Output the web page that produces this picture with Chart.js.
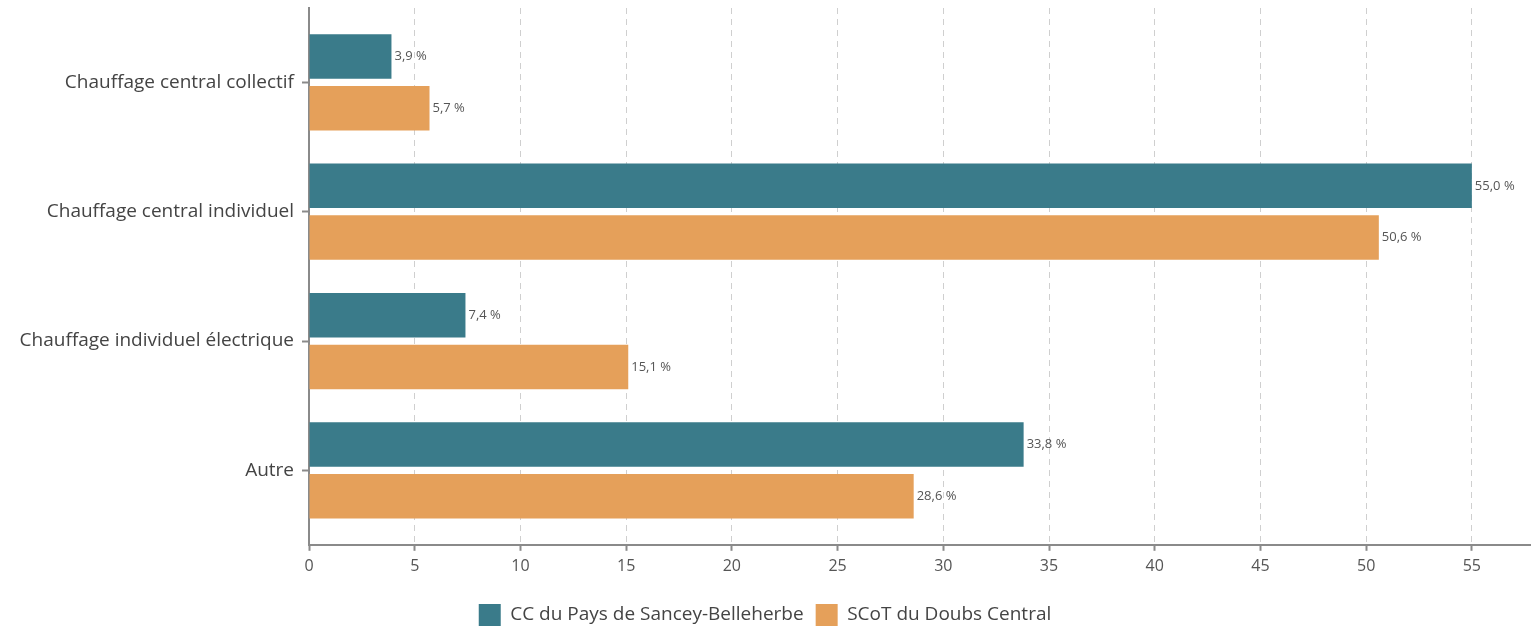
<!DOCTYPE html>
<html>
<head>
<meta charset="utf-8">
<script src="https://cdn.jsdelivr.net/npm/chart.js@4/dist/chart.umd.min.js"></script>
<style>
  html, body { margin: 0; padding: 0; background: #fff; }
  #wrap { width: 1540px; height: 636px; }
</style>
</head>
<body>
<div id="wrap"><canvas id="chauffageChart"></canvas></div>
<script>
// Data
const categories = ['Chauffage central collectif', 'Chauffage central individuel', 'Chauffage individuel électrique', 'Autre'];
const ccSancey = [3.9, 55.0, 7.4, 33.8];
const scotDoubs = [5.7, 50.6, 15.1, 28.6];
const seriesNames = ['CC du Pays de Sancey-Belleherbe', 'SCoT du Doubs Central'];
const xTicks = [0, 5, 10, 15, 20, 25, 30, 35, 40, 45, 50, 55];

const teal = '#3A7B8A';
const orange = '#E5A05A';
const axisGray = '#8a8a8a';

// value labels at the end of each bar, "3,9 %"
const valueLabels = {
    id: 'valueLabels',
    afterDatasetsDraw(chart) {
        const ctx = chart.ctx;
        ctx.save();
        ctx.font = '13px "Open Sans"';
        ctx.fillStyle = '#555';
        ctx.textAlign = 'left';
        ctx.textBaseline = 'middle';
        chart.data.datasets.forEach(function(ds, i) {
            chart.getDatasetMeta(i).data.forEach(function(bar, j) {
                const txt = ds.data[j].x.toFixed(1).replace('.', ',') + ' %';
                ctx.fillText(txt, bar.x + 3, bar.y);
            });
        });
        ctx.restore();
    }
};

new Chart(document.getElementById('chauffageChart'), {
    type: 'bar',
    data: {
        datasets: [
            {
                label: seriesNames[0],
                data: ccSancey.map((v, i) => ({ x: v, y: i })),
                backgroundColor: teal
            },
            {
                label: seriesNames[1],
                data: scotDoubs.map((v, i) => ({ x: v, y: i })),
                backgroundColor: orange
            }
        ]
    },
    options: {
        indexAxis: 'y',
        responsive: true,
        maintainAspectRatio: false,
        animation: false,
        categoryPercentage: 0.8,
        barPercentage: 0.86,
        layout: { padding: { top: 8, right: 10, left: 0, bottom: 0 } },
        plugins: {
            tooltip: { enabled: false },
            legend: {
                position: 'bottom',
                labels: {
                    boxWidth: 22,
                    boxHeight: 22,
                    padding: 12,
                    color: '#444',
                    font: { family: 'Open Sans', size: 19 }
                }
            }
        },
        scales: {
            x: {
                type: 'linear',
                min: 0,
                max: 57.75,
                afterBuildTicks: function(scale) {
                    scale.ticks = xTicks.map(v => ({ value: v }));
                },
                afterFit: function(scale) {
                    scale.height += 10;
                },
                grid: {
                    color: '#cfcfcf',
                    lineWidth: 1,
                    tickLength: 6,
                    tickColor: axisGray,
                    tickWidth: 2
                },
                border: { color: axisGray, width: 2, dash: [6, 5] },
                ticks: {
                    color: '#555',
                    padding: 6,
                    font: { family: 'Open Sans', size: 16 }
                }
            },
            y: {
                type: 'linear',
                reverse: true,
                offset: false,
                min: -0.575,
                max: 3.575,
                afterBuildTicks: function(scale) {
                    scale.ticks = categories.map((c, i) => ({ value: i }));
                },
                afterFit: function(scale) {
                    scale.width = 309;
                    scale.paddingTop = 0;
                    scale.paddingBottom = 0;
                },
                grid: {
                    offset: false,
                    drawOnChartArea: false,
                    tickLength: 7,
                    tickColor: axisGray,
                    tickWidth: 2
                },
                border: { color: axisGray, width: 2 },
                ticks: {
                    color: '#444',
                    padding: 8,
                    font: { family: 'Open Sans', size: 19 },
                    callback: function(value) { return categories[value]; }
                }
            }
        }
    },
    plugins: [valueLabels]
});
</script>
</body>
</html>
